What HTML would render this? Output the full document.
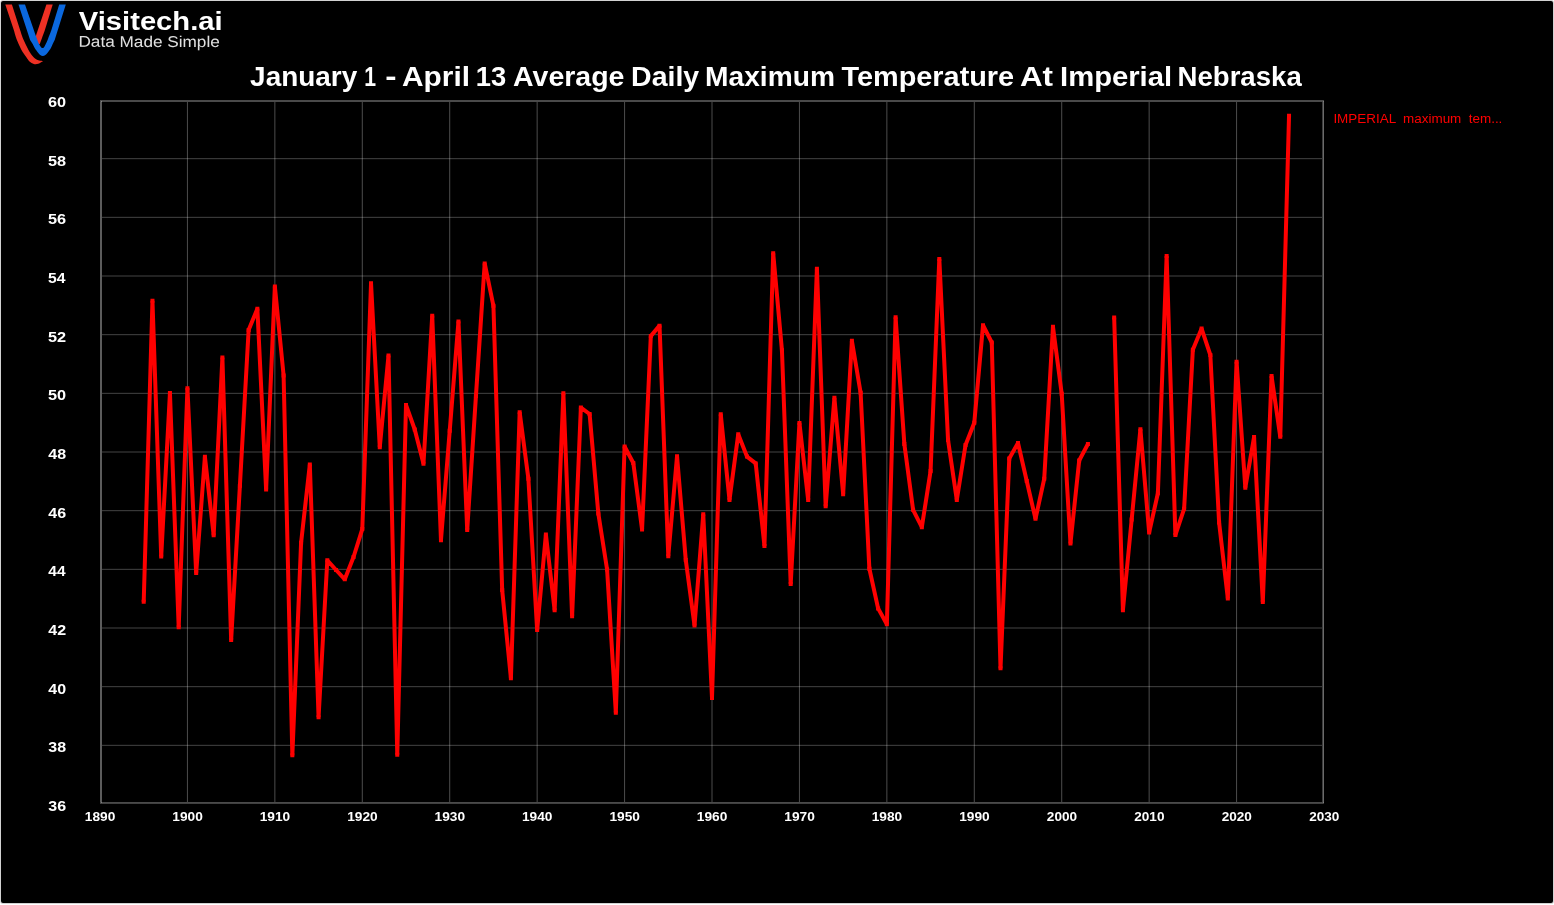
<!DOCTYPE html>
<html>
<head>
<meta charset="utf-8">
<title>January 1 - April 13 Average Daily Maximum Temperature At Imperial Nebraska</title>
<style>
html, body { margin:0; padding:0; background:#fff; }
body { width:1554px; height:905px; overflow:hidden; position:relative;
  font-family:"Liberation Sans", sans-serif; }
#wrap { position:absolute; left:0; top:0; width:1554px; height:905px; will-change:transform; background:#fff; }
#edge { position:absolute; left:0; top:0; width:1554px; height:904px; background:#d2d2d2; border-radius:3px; }
#panel { position:absolute; left:1px; top:1px; width:1551.8px; height:901.6px; background:#000; border-radius:2px; }
#chart { position:absolute; left:0; top:0; }
#chart text { font-family:"Liberation Sans", sans-serif; }
.legend { position:absolute; left:1334px; top:110px; color:#f00; font-size:13px; line-height:16px; white-space:pre; }
</style>
</head>
<body>
<div id="wrap">
<div id="edge"></div>
<div id="panel"></div>

<svg id="chart" width="1554" height="905" viewBox="0 0 1554 905">
  <!-- logo -->
  <g>
    <path d="M5.3 4.5L13.8 30C14.25 31.50 15.38 36.00 16.50 39.00C17.62 42.00 19.42 45.75 20.50 48.00C21.58 50.25 22.05 51.00 23.00 52.50C23.95 54.00 25.12 55.50 26.20 57.00C27.28 58.50 28.23 60.33 29.50 61.50C30.77 62.67 32.33 63.62 33.80 64.00C35.27 64.38 36.72 64.28 38.30 63.80C39.88 63.32 42.47 61.55 43.30 61.10C42.62 61.02 40.40 60.90 39.20 60.60C38.00 60.30 37.07 59.90 36.10 59.30C35.13 58.70 34.42 58.13 33.40 57.00C32.38 55.87 30.98 54.00 30.00 52.50C29.02 51.00 28.63 50.25 27.50 48.00C26.37 45.75 24.43 42.00 23.20 39.00C21.97 36.00 20.62 31.50 20.10 30.00L11.9 4.5Z" fill="#ee3124"/>
    <path d="M46.4 4.5L52.7 4.5L44.9 30L39.7 44.2L38.2 44.2L35.5 37Z" fill="#ee3124"/>
    <path d="M18.5 4.5L30.1 40C30.53 40.67 31.93 42.67 32.70 44.00C33.47 45.33 33.83 46.58 34.70 48.00C35.57 49.42 36.98 51.35 37.90 52.50C38.82 53.65 39.38 54.33 40.20 54.90C41.02 55.47 41.93 55.90 42.80 55.90C43.67 55.90 44.57 55.47 45.40 54.90C46.23 54.33 46.88 53.65 47.80 52.50C48.72 51.35 50.08 49.42 50.90 48.00C51.72 46.58 52.07 45.33 52.70 44.00C53.33 42.67 54.37 40.67 54.70 40.00L65.8 4.5L59.2 4.5L51.4 30C50.83 31.50 48.90 36.75 48.00 39.00C47.10 41.25 46.52 42.37 46.00 43.50C45.48 44.63 45.27 45.13 44.90 45.80C44.53 46.47 44.18 47.13 43.80 47.50C43.42 47.87 43.02 48.00 42.60 48.00C42.18 48.00 41.72 47.87 41.30 47.50C40.88 47.13 40.52 46.47 40.10 45.80C39.68 45.13 39.32 44.63 38.80 43.50C38.28 42.37 37.83 41.25 37.00 39.00C36.17 36.75 34.33 31.50 33.80 30.00L25.0 4.5Z" fill="#0b68de"/>
  </g>

  <!-- grid -->
  <g>
<rect x="186.93" y="102" width="1" height="700" fill="#fff" fill-opacity="0.30"/>
<rect x="274.36" y="102" width="1" height="700" fill="#fff" fill-opacity="0.30"/>
<rect x="361.79" y="102" width="1" height="700" fill="#fff" fill-opacity="0.30"/>
<rect x="449.21" y="102" width="1" height="700" fill="#fff" fill-opacity="0.30"/>
<rect x="536.64" y="102" width="1" height="700" fill="#fff" fill-opacity="0.30"/>
<rect x="624.07" y="102" width="1" height="700" fill="#fff" fill-opacity="0.30"/>
<rect x="711.50" y="102" width="1" height="700" fill="#fff" fill-opacity="0.30"/>
<rect x="798.93" y="102" width="1" height="700" fill="#fff" fill-opacity="0.30"/>
<rect x="886.36" y="102" width="1" height="700" fill="#fff" fill-opacity="0.30"/>
<rect x="973.79" y="102" width="1" height="700" fill="#fff" fill-opacity="0.30"/>
<rect x="1061.21" y="102" width="1" height="700" fill="#fff" fill-opacity="0.30"/>
<rect x="1148.64" y="102" width="1" height="700" fill="#fff" fill-opacity="0.30"/>
<rect x="1236.07" y="102" width="1" height="700" fill="#fff" fill-opacity="0.30"/>
<rect x="102" y="158.17" width="1220" height="1" fill="#fff" fill-opacity="0.265"/>
<rect x="102" y="216.83" width="1220" height="1" fill="#fff" fill-opacity="0.265"/>
<rect x="102" y="275.50" width="1220" height="1" fill="#fff" fill-opacity="0.265"/>
<rect x="102" y="334.17" width="1220" height="1" fill="#fff" fill-opacity="0.265"/>
<rect x="102" y="392.83" width="1220" height="1" fill="#fff" fill-opacity="0.265"/>
<rect x="102" y="451.50" width="1220" height="1" fill="#fff" fill-opacity="0.265"/>
<rect x="102" y="510.17" width="1220" height="1" fill="#fff" fill-opacity="0.265"/>
<rect x="102" y="568.83" width="1220" height="1" fill="#fff" fill-opacity="0.265"/>
<rect x="102" y="627.50" width="1220" height="1" fill="#fff" fill-opacity="0.265"/>
<rect x="102" y="686.17" width="1220" height="1" fill="#fff" fill-opacity="0.265"/>
<rect x="102" y="744.83" width="1220" height="1" fill="#fff" fill-opacity="0.265"/>
  </g>
  <!-- frame: 2px drawn inside plot area -->
  <g>
    <rect x="100" y="100" width="1224" height="2" fill="#4a4a4a"/>
    <rect x="100" y="802" width="1224" height="1" fill="#4a4a4a"/>
    <rect x="100" y="803" width="1224" height="1" fill="#404040"/>
    <rect x="100" y="102" width="2" height="700" fill="#5c5c5c"/>
    <rect x="1322" y="102" width="1" height="700" fill="#3c3c3c"/>
    <rect x="1323" y="102" width="1" height="700" fill="#6a6a6a"/>
    <rect x="1323" y="101" width="1" height="1" fill="#808080"/>
    <rect x="1323" y="100" width="1" height="1" fill="#4a4a4a"/>
    <rect x="1323" y="802" width="1" height="1" fill="#808080"/>
    <rect x="1323" y="803" width="1" height="1" fill="#3a3a3a"/>
    <rect x="101" y="101" width="1" height="1" fill="#888"/>
    <rect x="101" y="802" width="1" height="1" fill="#808080"/>
  </g>
  <!-- series -->
  <g fill="none" stroke="#ff0000" stroke-width="4" stroke-linejoin="bevel" stroke-linecap="butt">
<polyline points="143.71,601.75 152.46,300.85 161.20,556.55 169.94,393.05 178.69,627.15 187.43,388.15 196.17,573.05 204.91,456.75 213.66,535.35 222.40,357.55 231.14,640.05 239.89,485.80 248.63,330.00 257.37,308.65 266.11,489.45 274.86,286.45 283.60,375.40 292.34,755.35 301.09,542.70 309.83,464.55 318.57,717.25 327.31,560.25 336.06,570.00 344.80,579.35 353.54,557.00 362.29,529.10 371.03,283.35 379.77,447.25 388.51,355.55 397.26,754.75 406.00,404.95 414.74,429.50 423.49,463.75 432.23,315.65 440.97,540.15 449.71,430.80 458.46,321.45 467.20,530.05 475.94,396.00 484.69,263.45 493.43,305.80 502.17,590.00 510.91,678.35 519.66,412.35 528.40,478.80 537.14,630.05 545.89,534.55 554.63,610.15 563.37,393.35 572.11,616.15 580.86,407.55 589.60,414.00 598.34,513.60 607.09,569.50 615.83,712.65 624.57,446.55 633.31,463.00 642.06,529.45 650.80,336.10 659.54,325.65 668.29,556.15 677.03,456.25 685.77,560.00 694.51,625.55 703.26,514.25 712.00,697.95 720.74,414.25 729.49,499.95 738.23,434.35 746.97,456.60 755.71,463.40 764.46,545.95 773.20,253.15 781.94,350.30 790.69,584.05 799.43,422.95 808.17,499.95 816.91,268.65 825.66,506.25 834.40,397.85 843.14,494.15 851.89,340.75 860.63,392.80 869.37,568.80 878.11,608.40 886.86,624.25 895.60,317.35 904.34,444.00 913.09,509.80 921.83,527.15 930.57,471.10 939.31,258.95 948.06,440.10 956.80,499.95 965.54,445.00 974.29,422.70 983.03,325.15 991.77,342.50 1000.51,668.35 1009.26,458.50 1018.00,443.05 1026.74,481.00 1035.49,518.85 1044.23,478.80 1052.97,326.65 1061.71,393.80 1070.46,543.45 1079.20,460.50 1087.94,443.95"/>
<polyline points="1114.17,317.45 1122.91,610.15 1131.66,519.60 1140.40,429.15 1149.14,532.45 1157.89,493.30 1166.63,256.05 1175.37,535.05 1184.11,508.80 1192.86,349.70 1201.60,328.55 1210.34,355.00 1219.09,522.40 1227.83,598.55 1236.57,361.75 1245.31,487.65 1254.06,437.05 1262.80,602.05 1271.54,376.05 1280.29,436.85 1289.03,115.75"/>
  </g>
  <path fill="#ff0000" d="M141.71 599.75h4.0v4.0h-4.0zM150.46 298.85h4.0v4.0h-4.0zM159.20 554.55h4.0v4.0h-4.0zM167.94 391.05h4.0v4.0h-4.0zM176.69 625.15h4.0v4.0h-4.0zM185.43 386.15h4.0v4.0h-4.0zM194.17 571.05h4.0v4.0h-4.0zM202.91 454.75h4.0v4.0h-4.0zM211.66 533.35h4.0v4.0h-4.0zM220.40 355.55h4.0v4.0h-4.0zM229.14 638.05h4.0v4.0h-4.0zM237.89 483.80h4.0v4.0h-4.0zM246.63 328.00h4.0v4.0h-4.0zM255.37 306.65h4.0v4.0h-4.0zM264.11 487.45h4.0v4.0h-4.0zM272.86 284.45h4.0v4.0h-4.0zM281.60 373.40h4.0v4.0h-4.0zM290.34 753.35h4.0v4.0h-4.0zM299.09 540.70h4.0v4.0h-4.0zM307.83 462.55h4.0v4.0h-4.0zM316.57 715.25h4.0v4.0h-4.0zM325.31 558.25h4.0v4.0h-4.0zM334.06 568.00h4.0v4.0h-4.0zM342.80 577.35h4.0v4.0h-4.0zM351.54 555.00h4.0v4.0h-4.0zM360.29 527.10h4.0v4.0h-4.0zM369.03 281.35h4.0v4.0h-4.0zM377.77 445.25h4.0v4.0h-4.0zM386.51 353.55h4.0v4.0h-4.0zM395.26 752.75h4.0v4.0h-4.0zM404.00 402.95h4.0v4.0h-4.0zM412.74 427.50h4.0v4.0h-4.0zM421.49 461.75h4.0v4.0h-4.0zM430.23 313.65h4.0v4.0h-4.0zM438.97 538.15h4.0v4.0h-4.0zM447.71 428.80h4.0v4.0h-4.0zM456.46 319.45h4.0v4.0h-4.0zM465.20 528.05h4.0v4.0h-4.0zM473.94 394.00h4.0v4.0h-4.0zM482.69 261.45h4.0v4.0h-4.0zM491.43 303.80h4.0v4.0h-4.0zM500.17 588.00h4.0v4.0h-4.0zM508.91 676.35h4.0v4.0h-4.0zM517.66 410.35h4.0v4.0h-4.0zM526.40 476.80h4.0v4.0h-4.0zM535.14 628.05h4.0v4.0h-4.0zM543.89 532.55h4.0v4.0h-4.0zM552.63 608.15h4.0v4.0h-4.0zM561.37 391.35h4.0v4.0h-4.0zM570.11 614.15h4.0v4.0h-4.0zM578.86 405.55h4.0v4.0h-4.0zM587.60 412.00h4.0v4.0h-4.0zM596.34 511.60h4.0v4.0h-4.0zM605.09 567.50h4.0v4.0h-4.0zM613.83 710.65h4.0v4.0h-4.0zM622.57 444.55h4.0v4.0h-4.0zM631.31 461.00h4.0v4.0h-4.0zM640.06 527.45h4.0v4.0h-4.0zM648.80 334.10h4.0v4.0h-4.0zM657.54 323.65h4.0v4.0h-4.0zM666.29 554.15h4.0v4.0h-4.0zM675.03 454.25h4.0v4.0h-4.0zM683.77 558.00h4.0v4.0h-4.0zM692.51 623.55h4.0v4.0h-4.0zM701.26 512.25h4.0v4.0h-4.0zM710.00 695.95h4.0v4.0h-4.0zM718.74 412.25h4.0v4.0h-4.0zM727.49 497.95h4.0v4.0h-4.0zM736.23 432.35h4.0v4.0h-4.0zM744.97 454.60h4.0v4.0h-4.0zM753.71 461.40h4.0v4.0h-4.0zM762.46 543.95h4.0v4.0h-4.0zM771.20 251.15h4.0v4.0h-4.0zM779.94 348.30h4.0v4.0h-4.0zM788.69 582.05h4.0v4.0h-4.0zM797.43 420.95h4.0v4.0h-4.0zM806.17 497.95h4.0v4.0h-4.0zM814.91 266.65h4.0v4.0h-4.0zM823.66 504.25h4.0v4.0h-4.0zM832.40 395.85h4.0v4.0h-4.0zM841.14 492.15h4.0v4.0h-4.0zM849.89 338.75h4.0v4.0h-4.0zM858.63 390.80h4.0v4.0h-4.0zM867.37 566.80h4.0v4.0h-4.0zM876.11 606.40h4.0v4.0h-4.0zM884.86 622.25h4.0v4.0h-4.0zM893.60 315.35h4.0v4.0h-4.0zM902.34 442.00h4.0v4.0h-4.0zM911.09 507.80h4.0v4.0h-4.0zM919.83 525.15h4.0v4.0h-4.0zM928.57 469.10h4.0v4.0h-4.0zM937.31 256.95h4.0v4.0h-4.0zM946.06 438.10h4.0v4.0h-4.0zM954.80 497.95h4.0v4.0h-4.0zM963.54 443.00h4.0v4.0h-4.0zM972.29 420.70h4.0v4.0h-4.0zM981.03 323.15h4.0v4.0h-4.0zM989.77 340.50h4.0v4.0h-4.0zM998.51 666.35h4.0v4.0h-4.0zM1007.26 456.50h4.0v4.0h-4.0zM1016.00 441.05h4.0v4.0h-4.0zM1024.74 479.00h4.0v4.0h-4.0zM1033.49 516.85h4.0v4.0h-4.0zM1042.23 476.80h4.0v4.0h-4.0zM1050.97 324.65h4.0v4.0h-4.0zM1059.71 391.80h4.0v4.0h-4.0zM1068.46 541.45h4.0v4.0h-4.0zM1077.20 458.50h4.0v4.0h-4.0zM1085.94 441.95h4.0v4.0h-4.0zM1112.17 315.45h4.0v4.0h-4.0zM1120.91 608.15h4.0v4.0h-4.0zM1129.66 517.60h4.0v4.0h-4.0zM1138.40 427.15h4.0v4.0h-4.0zM1147.14 530.45h4.0v4.0h-4.0zM1155.89 491.30h4.0v4.0h-4.0zM1164.63 254.05h4.0v4.0h-4.0zM1173.37 533.05h4.0v4.0h-4.0zM1182.11 506.80h4.0v4.0h-4.0zM1190.86 347.70h4.0v4.0h-4.0zM1199.60 326.55h4.0v4.0h-4.0zM1208.34 353.00h4.0v4.0h-4.0zM1217.09 520.40h4.0v4.0h-4.0zM1225.83 596.55h4.0v4.0h-4.0zM1234.57 359.75h4.0v4.0h-4.0zM1243.31 485.65h4.0v4.0h-4.0zM1252.06 435.05h4.0v4.0h-4.0zM1260.80 600.05h4.0v4.0h-4.0zM1269.54 374.05h4.0v4.0h-4.0zM1278.29 434.85h4.0v4.0h-4.0zM1287.03 113.75h4.0v4.0h-4.0z"/>
  <!-- text -->
  <g>
<text transform="translate(250.09,85.70) scale(1.0240,1)" font-size="27.3" font-weight="bold" fill="#fff" xml:space="preserve">January</text>
<text transform="translate(364.34,85.70) scale(0.7765,1)" font-size="27.3" font-weight="bold" fill="#fff" xml:space="preserve">1</text>
<text transform="translate(385.36,85.70) scale(1.2429,1)" font-size="27.3" font-weight="bold" fill="#fff" xml:space="preserve">-</text>
<text transform="translate(401.98,85.70) scale(1.0941,1)" font-size="27.3" font-weight="bold" fill="#fff" xml:space="preserve">April</text>
<text transform="translate(475.75,85.70) scale(1.0018,1)" font-size="27.3" font-weight="bold" fill="#fff" xml:space="preserve">13</text>
<text transform="translate(513.12,85.70) scale(1.0429,1)" font-size="27.3" font-weight="bold" fill="#fff" xml:space="preserve">Average</text>
<text transform="translate(631.07,85.70) scale(1.0435,1)" font-size="27.3" font-weight="bold" fill="#fff" xml:space="preserve">Daily</text>
<text transform="translate(705.09,85.70) scale(1.0318,1)" font-size="27.3" font-weight="bold" fill="#fff" xml:space="preserve">Maximum</text>
<text transform="translate(841.54,85.70) scale(1.0570,1)" font-size="27.3" font-weight="bold" fill="#fff" xml:space="preserve">Temperature</text>
<text transform="translate(1019.94,85.70) scale(1.1495,1)" font-size="27.3" font-weight="bold" fill="#fff" xml:space="preserve">At</text>
<text transform="translate(1060.03,85.70) scale(1.0713,1)" font-size="27.3" font-weight="bold" fill="#fff" xml:space="preserve">Imperial</text>
<text transform="translate(1177.53,85.70) scale(1.0107,1)" font-size="27.3" font-weight="bold" fill="#fff" xml:space="preserve">Nebraska</text>
<text transform="translate(78.81,29.90) scale(1.1404,1)" font-size="25.6" font-weight="bold" fill="#fff" xml:space="preserve">Visitech.ai</text>
<text transform="translate(78.42,46.85) rotate(0.05) scale(1.1028,1)" font-size="15.6" font-weight="normal" fill="#e0e0e0" xml:space="preserve">Data Made Simple</text>
<text transform="translate(48.03,107.00) scale(1.1458,1)" font-size="14.2" font-weight="bold" fill="#fff" xml:space="preserve">60</text>
<text transform="translate(48.03,165.67) scale(1.1458,1)" font-size="14.2" font-weight="bold" fill="#fff" xml:space="preserve">58</text>
<text transform="translate(48.03,224.33) scale(1.1458,1)" font-size="14.2" font-weight="bold" fill="#fff" xml:space="preserve">56</text>
<text transform="translate(48.05,283.00) scale(1.1082,1)" font-size="14.2" font-weight="bold" fill="#fff" xml:space="preserve">54</text>
<text transform="translate(48.03,341.67) scale(1.1458,1)" font-size="14.2" font-weight="bold" fill="#fff" xml:space="preserve">52</text>
<text transform="translate(48.03,400.33) scale(1.1458,1)" font-size="14.2" font-weight="bold" fill="#fff" xml:space="preserve">50</text>
<text transform="translate(48.32,459.00) scale(1.1267,1)" font-size="14.2" font-weight="bold" fill="#fff" xml:space="preserve">48</text>
<text transform="translate(48.32,517.67) scale(1.1267,1)" font-size="14.2" font-weight="bold" fill="#fff" xml:space="preserve">46</text>
<text transform="translate(48.33,576.33) scale(1.0903,1)" font-size="14.2" font-weight="bold" fill="#fff" xml:space="preserve">44</text>
<text transform="translate(48.32,635.00) scale(1.1267,1)" font-size="14.2" font-weight="bold" fill="#fff" xml:space="preserve">42</text>
<text transform="translate(48.32,693.67) scale(1.1267,1)" font-size="14.2" font-weight="bold" fill="#fff" xml:space="preserve">40</text>
<text transform="translate(48.32,752.33) scale(1.1267,1)" font-size="14.2" font-weight="bold" fill="#fff" xml:space="preserve">38</text>
<text transform="translate(48.32,811.00) scale(1.1267,1)" font-size="14.2" font-weight="bold" fill="#fff" xml:space="preserve">36</text>
<text transform="translate(84.87,821.30) scale(1.0464,1)" font-size="13.1" font-weight="bold" fill="#fff" xml:space="preserve">1890</text>
<text transform="translate(172.29,821.30) scale(1.0464,1)" font-size="13.1" font-weight="bold" fill="#fff" xml:space="preserve">1900</text>
<text transform="translate(259.72,821.30) scale(1.0464,1)" font-size="13.1" font-weight="bold" fill="#fff" xml:space="preserve">1910</text>
<text transform="translate(347.15,821.30) scale(1.0464,1)" font-size="13.1" font-weight="bold" fill="#fff" xml:space="preserve">1920</text>
<text transform="translate(434.58,821.30) scale(1.0464,1)" font-size="13.1" font-weight="bold" fill="#fff" xml:space="preserve">1930</text>
<text transform="translate(522.01,821.30) scale(1.0464,1)" font-size="13.1" font-weight="bold" fill="#fff" xml:space="preserve">1940</text>
<text transform="translate(609.44,821.30) scale(1.0464,1)" font-size="13.1" font-weight="bold" fill="#fff" xml:space="preserve">1950</text>
<text transform="translate(696.87,821.30) scale(1.0464,1)" font-size="13.1" font-weight="bold" fill="#fff" xml:space="preserve">1960</text>
<text transform="translate(784.29,821.30) scale(1.0464,1)" font-size="13.1" font-weight="bold" fill="#fff" xml:space="preserve">1970</text>
<text transform="translate(871.72,821.30) scale(1.0464,1)" font-size="13.1" font-weight="bold" fill="#fff" xml:space="preserve">1980</text>
<text transform="translate(959.15,821.30) scale(1.0464,1)" font-size="13.1" font-weight="bold" fill="#fff" xml:space="preserve">1990</text>
<text transform="translate(1046.85,821.30) scale(1.0372,1)" font-size="13.1" font-weight="bold" fill="#fff" xml:space="preserve">2000</text>
<text transform="translate(1134.27,821.30) scale(1.0372,1)" font-size="13.1" font-weight="bold" fill="#fff" xml:space="preserve">2010</text>
<text transform="translate(1221.70,821.30) scale(1.0372,1)" font-size="13.1" font-weight="bold" fill="#fff" xml:space="preserve">2020</text>
<text transform="translate(1309.13,821.30) scale(1.0372,1)" font-size="13.1" font-weight="bold" fill="#fff" xml:space="preserve">2030</text>
<text transform="translate(1333.39,123.10) scale(1.0091,1)" font-size="13.33" font-weight="normal" fill="#ff0000" xml:space="preserve">IMPERIAL  maximum  tem...</text>
  </g>
</svg>
</div>
</body>
</html>
